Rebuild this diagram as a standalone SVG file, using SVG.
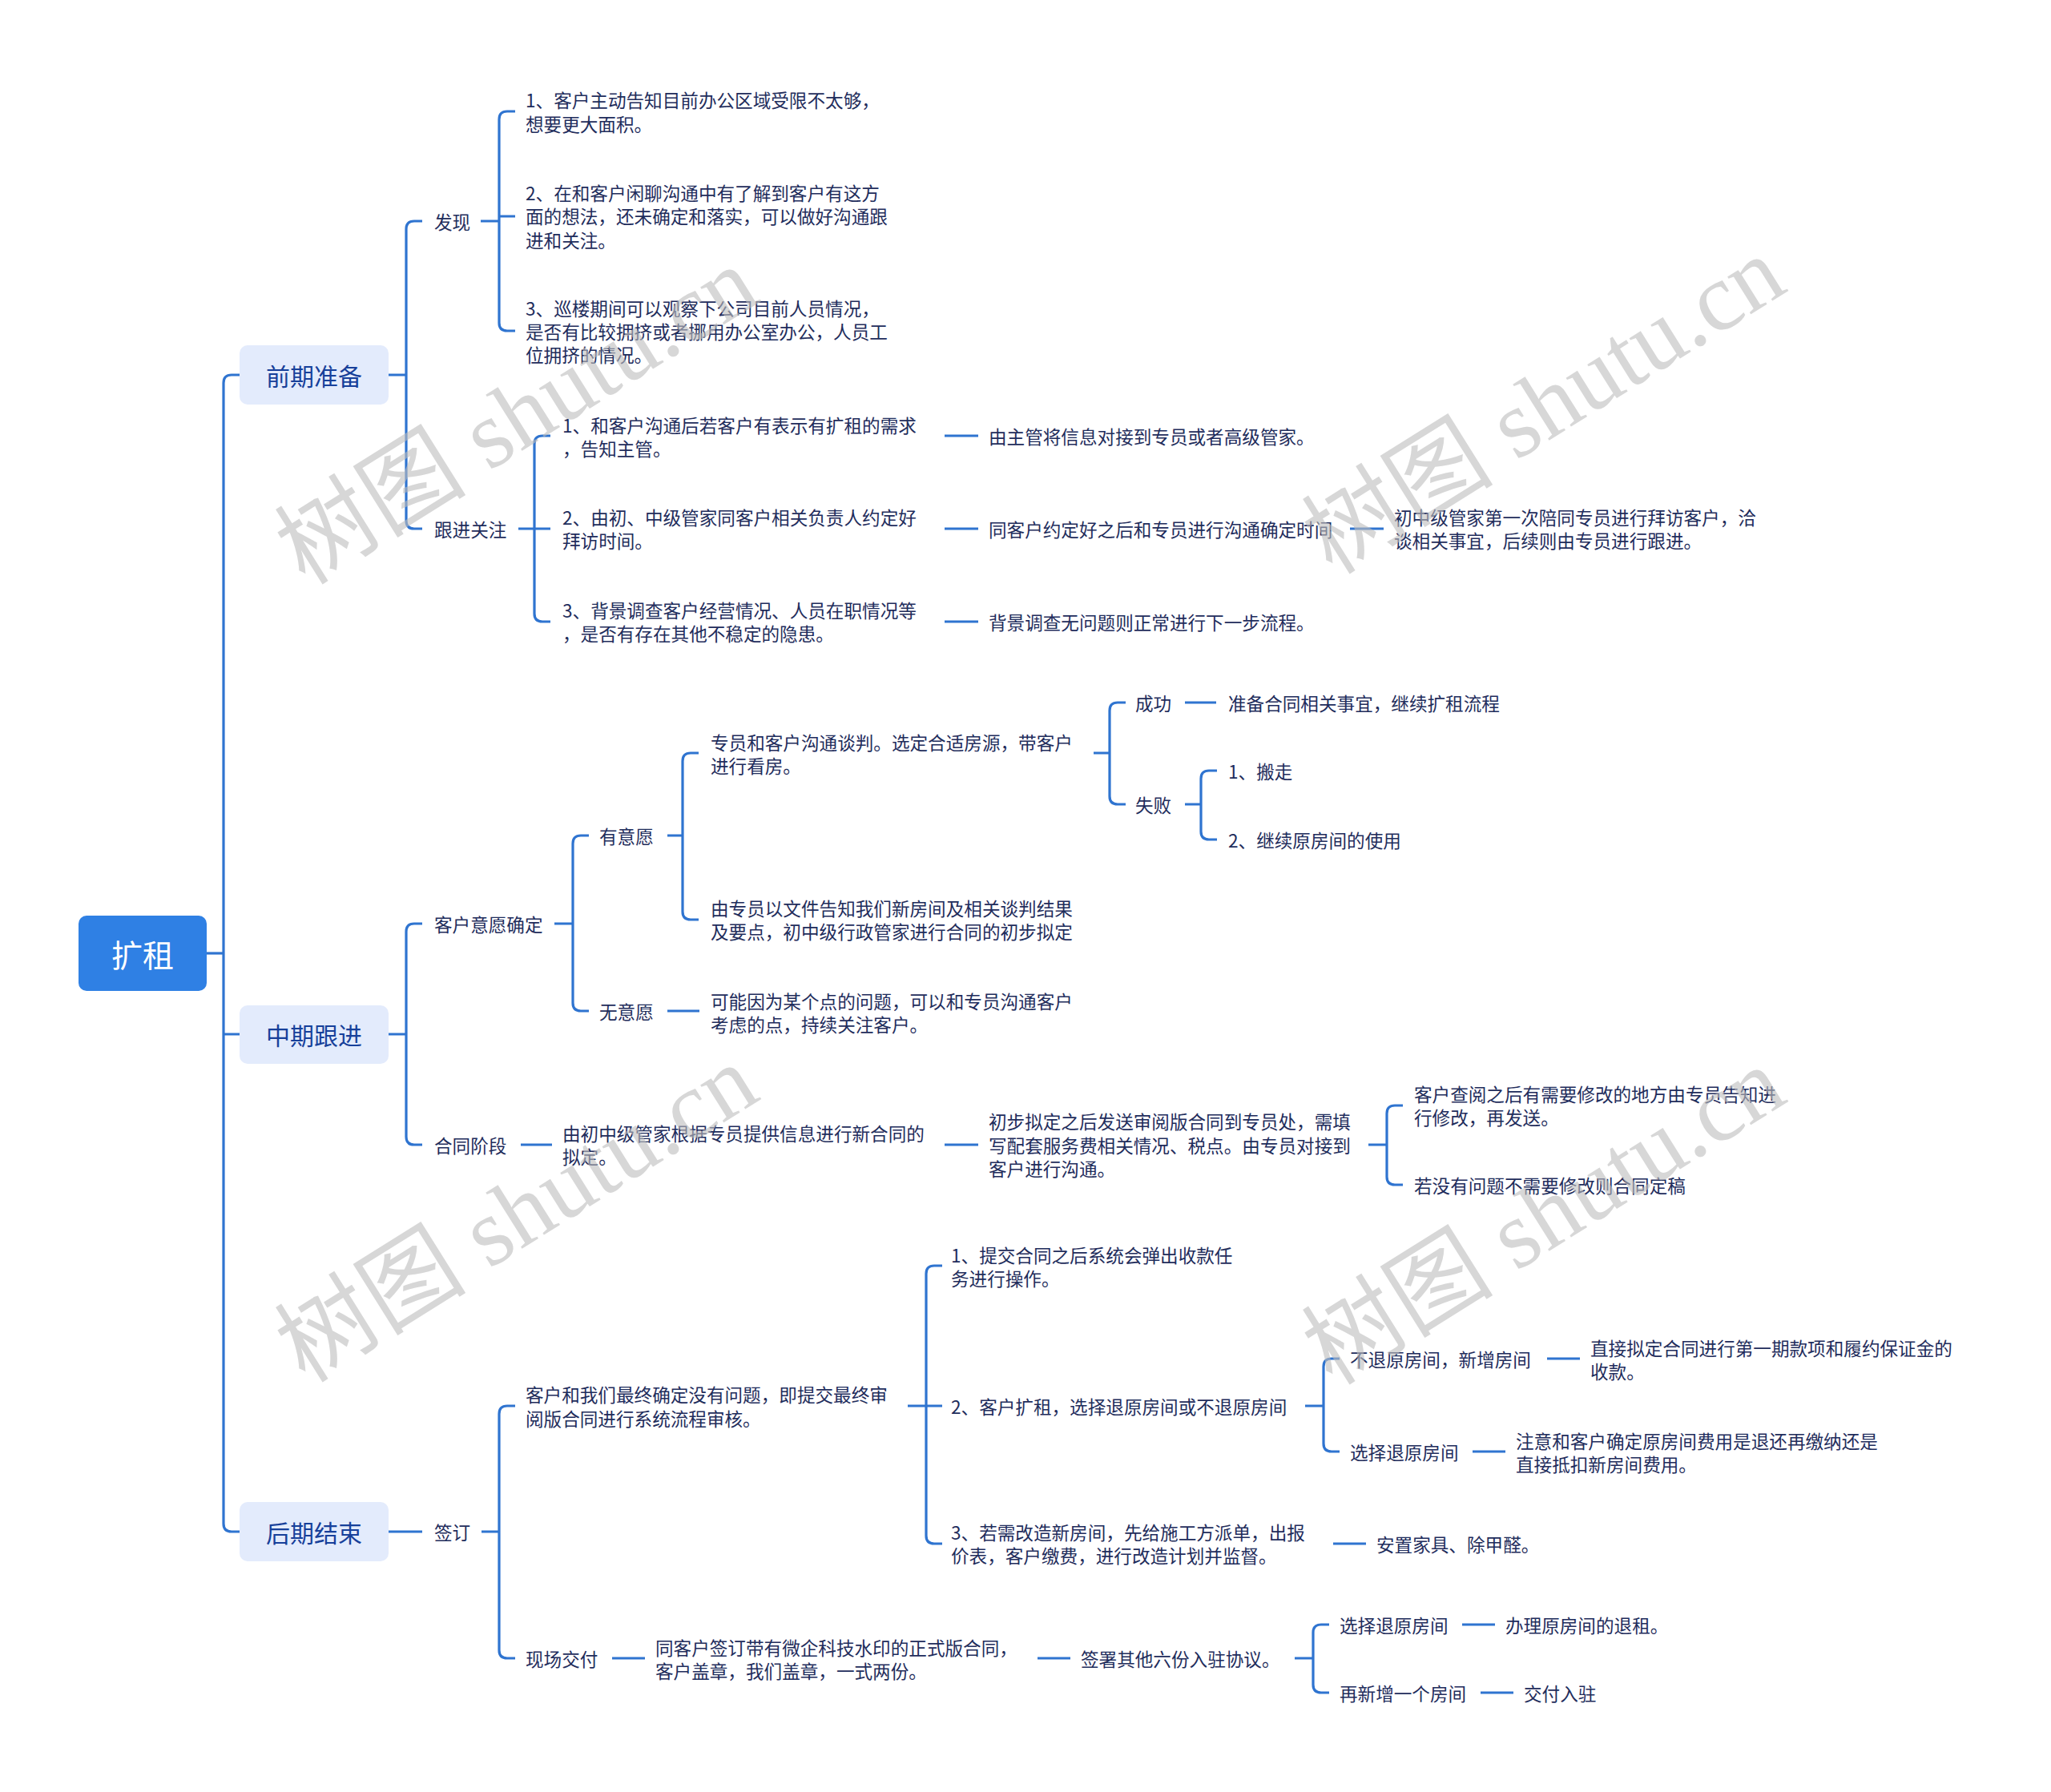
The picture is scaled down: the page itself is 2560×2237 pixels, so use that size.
<svg xmlns="http://www.w3.org/2000/svg" width="2560" height="2237" viewBox="0 0 2560 2237">
<style>
.bg{fill:#ffffff}
.c{fill:none;stroke:#2f74d0;stroke-width:3.2}
.t{font-family:"Noto Sans CJK SC","Noto Sans",sans-serif;font-size:22.6px;fill:#1f2d5c;dominant-baseline:central}
.l1 rect{fill:#e3ebfc}
.l1 text{font-family:"Noto Sans CJK SC","Noto Sans",sans-serif;font-size:30px;fill:#17409a;text-anchor:middle;dominant-baseline:central}
.root rect{fill:#2f80e4}
.root text{font-family:"Noto Sans CJK SC","Noto Sans",sans-serif;font-size:39px;fill:#ffffff;text-anchor:middle;dominant-baseline:central}
.wm{font-family:"Liberation Serif","Noto Sans CJK SC",serif;font-size:120px;fill:#bdbdbd;opacity:0.6;text-anchor:middle;dominant-baseline:central}
</style>
<rect class="bg" x="0" y="0" width="2560" height="2237"/>

<g id="connectors">
<path class="c" d="M258 1190 H279"/>
<path class="c" d="M299 468 H289 Q279 468 279 478 V1902 Q279 1912 289 1912 H299 M279 1291 H299"/>
<path class="c" d="M485 468 H507 M527 276 H517 Q507 276 507 286 V650 Q507 660 517 660 H527"/>
<path class="c" d="M600 276 H623 M643 139 H633 Q623 139 623 149 V403 Q623 413 633 413 H643 M623 270 H643"/>
<path class="c" d="M647 660 H667 M687 544 H677 Q667 544 667 554 V766 Q667 776 677 776 H687 M667 660 H687"/>
<path class="c" d="M1179 544 H1221 M1179 660 H1221 M1179 776 H1221 M1685 660 H1727"/>
<path class="c" d="M485 1291 H507 M527 1153 H517 Q507 1153 507 1163 V1419 Q507 1429 517 1429 H527"/>
<path class="c" d="M692 1153 H715 M735 1043 H725 Q715 1043 715 1053 V1252 Q715 1262 725 1262 H735"/>
<path class="c" d="M833 1043 H852 M872 940 H862 Q852 940 852 950 V1138 Q852 1148 862 1148 H872"/>
<path class="c" d="M1365 940 H1385 M1405 877 H1395 Q1385 877 1385 887 V994 Q1385 1004 1395 1004 H1405"/>
<path class="c" d="M1479 877 H1518"/>
<path class="c" d="M1479 1004 H1499 M1519 962 H1509 Q1499 962 1499 972 V1038 Q1499 1048 1509 1048 H1519"/>
<path class="c" d="M833 1262 H873"/>
<path class="c" d="M650 1429 H689 M1179 1429 H1221 M1708 1429 H1731 M1751 1380 H1741 Q1731 1380 1731 1390 V1469 Q1731 1479 1741 1479 H1751"/>
<path class="c" d="M485 1912 H527 M601 1912 H623 M643 1755 H633 Q623 1755 623 1765 V2060 Q623 2070 633 2070 H643"/>
<path class="c" d="M1133 1755 H1156 M1176 1580 H1166 Q1156 1580 1156 1590 V1917 Q1156 1927 1166 1927 H1176 M1156 1755 H1176"/>
<path class="c" d="M1629 1755 H1652 M1672 1696 H1662 Q1652 1696 1652 1706 V1802 Q1652 1812 1662 1812 H1672"/>
<path class="c" d="M1931 1696 H1972 M1838 1812 H1879 M1664 1927 H1705"/>
<path class="c" d="M764 2070 H805 M1295 2070 H1336 M1616 2070 H1639 M1659 2028 H1649 Q1639 2028 1639 2038 V2103 Q1639 2113 1649 2113 H1659"/>
<path class="c" d="M1825 2028 H1866 M1848 2113 H1889"/>
</g>

<g id="n-root" class="root"><rect x="98" y="1143" width="160" height="94" rx="10"/><text x="178" y="1190">扩租</text></g>

<g id="n-qqzb" class="l1"><rect x="299" y="431" width="186" height="74" rx="10"/><text x="392" y="468">前期准备</text></g>
<g id="n-zqgj" class="l1"><rect x="299" y="1255" width="186" height="73" rx="10"/><text x="392" y="1291">中期跟进</text></g>
<g id="n-hqjs" class="l1"><rect x="299" y="1875" width="186" height="74" rx="10"/><text x="392" y="1912">后期结束</text></g>

<g id="n-fx"><text class="t" x="542" y="276">发现</text></g>
<g id="n-fx1"><text class="t"><tspan x="656" y="124">1、客户主动告知目前办公区域受限不太够，</tspan><tspan x="656" y="153.5">想要更大面积。</tspan></text></g>
<g id="n-fx2"><text class="t"><tspan x="656" y="240">2、在和客户闲聊沟通中有了解到客户有这方</tspan><tspan x="656" y="269">面的想法，还未确定和落实，可以做好沟通跟</tspan><tspan x="656" y="299">进和关注。</tspan></text></g>
<g id="n-fx3"><text class="t"><tspan x="656" y="384">3、巡楼期间可以观察下公司目前人员情况，</tspan><tspan x="656" y="413">是否有比较拥挤或者挪用办公室办公，人员工</tspan><tspan x="656" y="442">位拥挤的情况。</tspan></text></g>

<g id="n-gjgz"><text class="t" x="542" y="660">跟进关注</text></g>
<g id="n-gz1"><text class="t"><tspan x="702" y="530">1、和客户沟通后若客户有表示有扩租的需求</tspan><tspan x="702" y="559">，告知主管。</tspan></text></g>
<g id="n-gz2"><text class="t"><tspan x="702" y="645">2、由初、中级管家同客户相关负责人约定好</tspan><tspan x="702" y="674">拜访时间。</tspan></text></g>
<g id="n-gz3"><text class="t"><tspan x="702" y="761">3、背景调查客户经营情况、人员在职情况等</tspan><tspan x="702" y="790">，是否有存在其他不稳定的隐患。</tspan></text></g>
<g id="n-gz1a"><text class="t" x="1234" y="544">由主管将信息对接到专员或者高级管家。</text></g>
<g id="n-gz2a"><text class="t" x="1234" y="660">同客户约定好之后和专员进行沟通确定时间</text></g>
<g id="n-gz3a"><text class="t" x="1234" y="776">背景调查无问题则正常进行下一步流程。</text></g>
<g id="n-gz2b"><text class="t"><tspan x="1740" y="645">初中级管家第一次陪同专员进行拜访客户，洽</tspan><tspan x="1740" y="674">谈相关事宜，后续则由专员进行跟进。</tspan></text></g>

<g id="n-khyy"><text class="t" x="542" y="1153">客户意愿确定</text></g>
<g id="n-yyy"><text class="t" x="748" y="1043">有意愿</text></g>
<g id="n-wyy"><text class="t" x="748" y="1262">无意愿</text></g>
<g id="n-zy"><text class="t"><tspan x="887" y="926">专员和客户沟通谈判。选定合适房源，带客户</tspan><tspan x="887" y="955">进行看房。</tspan></text></g>
<g id="n-yzy"><text class="t"><tspan x="887" y="1133">由专员以文件告知我们新房间及相关谈判结果</tspan><tspan x="887" y="1162">及要点，初中级行政管家进行合同的初步拟定</tspan></text></g>
<g id="n-kn"><text class="t"><tspan x="887" y="1249">可能因为某个点的问题，可以和专员沟通客户</tspan><tspan x="887" y="1278">考虑的点，持续关注客户。</tspan></text></g>
<g id="n-cg"><text class="t" x="1417" y="877">成功</text></g>
<g id="n-sb"><text class="t" x="1417" y="1004">失败</text></g>
<g id="n-cg1"><text class="t" x="1533" y="877">准备合同相关事宜，继续扩租流程</text></g>
<g id="n-sb1"><text class="t" x="1533" y="962">1、搬走</text></g>
<g id="n-sb2"><text class="t" x="1533" y="1048">2、继续原房间的使用</text></g>

<g id="n-htjd"><text class="t" x="542" y="1429">合同阶段</text></g>
<g id="n-ht1"><text class="t"><tspan x="702" y="1414">由初中级管家根据专员提供信息进行新合同的</tspan><tspan x="702" y="1443">拟定。</tspan></text></g>
<g id="n-ht2"><text class="t"><tspan x="1234" y="1399">初步拟定之后发送审阅版合同到专员处，需填</tspan><tspan x="1234" y="1429">写配套服务费相关情况、税点。由专员对接到</tspan><tspan x="1234" y="1458">客户进行沟通。</tspan></text></g>
<g id="n-ht3"><text class="t"><tspan x="1765" y="1365">客户查阅之后有需要修改的地方由专员告知进</tspan><tspan x="1765" y="1394">行修改，再发送。</tspan></text></g>
<g id="n-ht4"><text class="t" x="1765" y="1479">若没有问题不需要修改则合同定稿</text></g>

<g id="n-qd"><text class="t" x="542" y="1912">签订</text></g>
<g id="n-qd1"><text class="t"><tspan x="656" y="1740">客户和我们最终确定没有问题，即提交最终审</tspan><tspan x="656" y="1770">阅版合同进行系统流程审核。</tspan></text></g>
<g id="n-qd1a"><text class="t"><tspan x="1187" y="1566">1、提交合同之后系统会弹出收款任</tspan><tspan x="1187" y="1595">务进行操作。</tspan></text></g>
<g id="n-qd1b"><text class="t" x="1187" y="1755">2、客户扩租，选择退原房间或不退原房间</text></g>
<g id="n-qd1c"><text class="t"><tspan x="1187" y="1912">3、若需改造新房间，先给施工方派单，出报</tspan><tspan x="1187" y="1941">价表，客户缴费，进行改造计划并监督。</tspan></text></g>
<g id="n-btf"><text class="t" x="1685" y="1696">不退原房间，新增房间</text></g>
<g id="n-btf1"><text class="t"><tspan x="1985" y="1682">直接拟定合同进行第一期款项和履约保证金的</tspan><tspan x="1985" y="1711">收款。</tspan></text></g>
<g id="n-xztf"><text class="t" x="1685" y="1812">选择退原房间</text></g>
<g id="n-xztf1"><text class="t"><tspan x="1892" y="1798">注意和客户确定原房间费用是退还再缴纳还是</tspan><tspan x="1892" y="1827">直接抵扣新房间费用。</tspan></text></g>
<g id="n-azjj"><text class="t" x="1718" y="1927">安置家具、除甲醛。</text></g>
<g id="n-xcjf"><text class="t" x="656" y="2070">现场交付</text></g>
<g id="n-xc1"><text class="t"><tspan x="818" y="2056">同客户签订带有微企科技水印的正式版合同，</tspan><tspan x="818" y="2085">客户盖章，我们盖章，一式两份。</tspan></text></g>
<g id="n-xc2"><text class="t" x="1349" y="2070">签署其他六份入驻协议。</text></g>
<g id="n-xc3"><text class="t" x="1672" y="2028">选择退原房间</text></g>
<g id="n-xc3a"><text class="t" x="1879" y="2028">办理原房间的退租。</text></g>
<g id="n-xc4"><text class="t" x="1672" y="2113">再新增一个房间</text></g>
<g id="n-xc4a"><text class="t" x="1902" y="2113">交付入驻</text></g>

<g id="watermarks">
<text class="wm" x="645" y="519" transform="rotate(-32 645 519)">树图 shutu.cn</text>
<text class="wm" x="1927" y="506" transform="rotate(-32 1927 506)">树图 shutu.cn</text>
<text class="wm" x="645" y="1515" transform="rotate(-32 645 1515)">树图 shutu.cn</text>
<text class="wm" x="1927" y="1518" transform="rotate(-32 1927 1518)">树图 shutu.cn</text>
</g>
</svg>
